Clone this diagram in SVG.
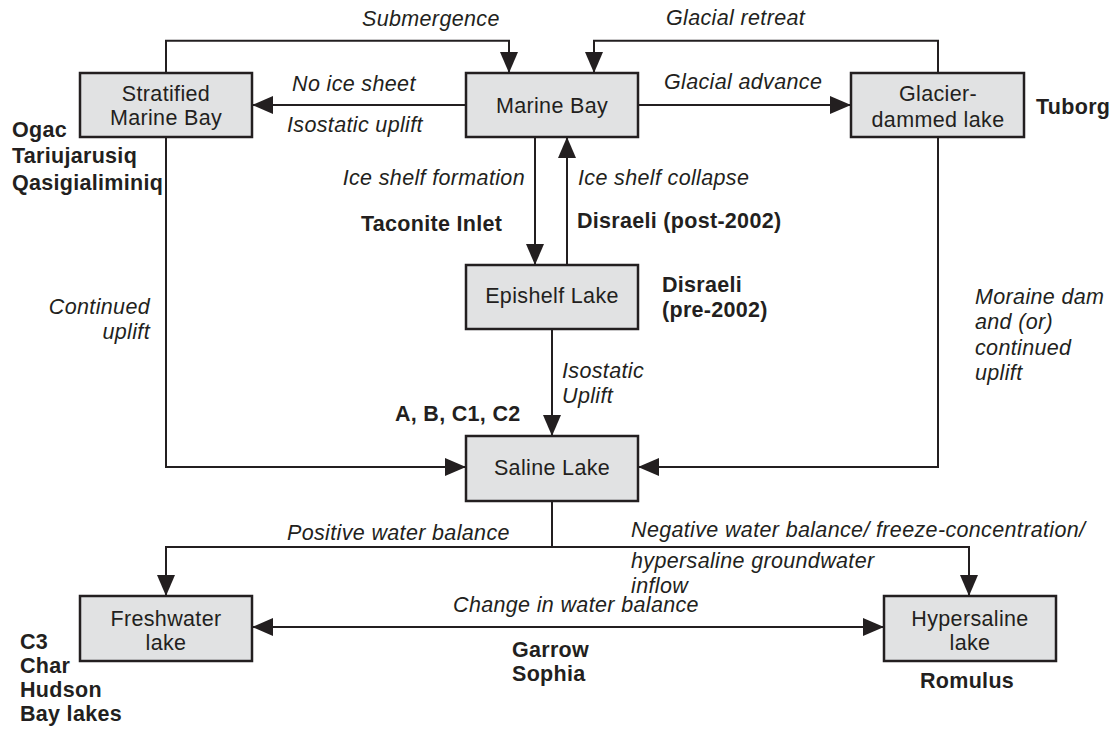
<svg xmlns="http://www.w3.org/2000/svg" width="1114" height="729" viewBox="0 0 1114 729">
<style>
text{font-family:"Liberation Sans",Arial,sans-serif;font-size:21.5px;letter-spacing:0.35px;fill:#231f20}
.i{font-style:italic}
.b{font-weight:bold;letter-spacing:0.3px}
.c{text-anchor:middle}
.e{text-anchor:end}
.box{fill:#e1e2e3;stroke:#231f20;stroke-width:2.5}
.ln{fill:none;stroke:#231f20;stroke-width:2}
</style>
<defs>
<marker id="ah" markerUnits="userSpaceOnUse" markerWidth="21" markerHeight="18" refX="20" refY="9" orient="auto-start-reverse"><path d="M0,0 L21,9 L0,18 z" fill="#231f20"/></marker>
</defs>
<rect width="1114" height="729" fill="#fff"/>
<g id="connectors">
<path class="ln" d="M166,73 V40.7 H509 V72" marker-end="url(#ah)"/>
<path class="ln" d="M938,73 V40.7 H594 V72" marker-end="url(#ah)"/>
<path class="ln" d="M466,105 H253" marker-end="url(#ah)"/>
<path class="ln" d="M638,105 H850" marker-end="url(#ah)"/>
<path class="ln" d="M535,137 V264" marker-end="url(#ah)"/>
<path class="ln" d="M567,265 V138" marker-end="url(#ah)"/>
<path class="ln" d="M552,329 V435" marker-end="url(#ah)"/>
<path class="ln" d="M166,137 V467 H465" marker-end="url(#ah)"/>
<path class="ln" d="M938,137 V467 H639" marker-end="url(#ah)"/>
<path class="ln" d="M552,501 V547"/>
<path class="ln" d="M552,547 H166 V595" marker-end="url(#ah)"/>
<path class="ln" d="M552,547 H969 V595" marker-end="url(#ah)"/>
<path class="ln" d="M253,627 H883" marker-start="url(#ah)" marker-end="url(#ah)"/>
<text class="i" x="362" y="26">Submergence</text>
<text class="i" x="666" y="25">Glacial retreat</text>
<text class="i" x="292" y="91">No ice sheet</text>
<text class="i" x="287" y="132">Isostatic uplift</text>
<text class="i" x="664" y="89">Glacial advance</text>
<text class="i e" x="525" y="185">Ice shelf formation</text>
<text class="i" x="578" y="185">Ice shelf collapse</text>
<text class="i" x="562" y="378">Isostatic</text>
<text class="i" x="562" y="403">Uplift</text>
<text class="i e" x="150" y="314">Continued</text>
<text class="i e" x="150" y="339">uplift</text>
<text class="i" x="975" y="304">Moraine dam</text>
<text class="i" x="975" y="329">and (or)</text>
<text class="i" x="975" y="355">continued</text>
<text class="i" x="975" y="380">uplift</text>
<text class="i" x="287" y="540">Positive water balance</text>
<text class="i" x="631" y="537">Negative water balance/ freeze-concentration/</text>
<text class="i" x="631" y="568">hypersaline groundwater</text>
<text class="i" x="631" y="593">inflow</text>
<text class="i" x="453" y="612">Change in water balance</text>
</g>
<g id="stratified">
<rect class="box" x="80" y="73" width="172" height="64"/>
<text class="c" x="166" y="101">Stratified</text>
<text class="c" x="166" y="125">Marine Bay</text>
<text class="b" x="12" y="137">Ogac</text>
<text class="b" x="12" y="163">Tariujarusiq</text>
<text class="b" x="12" y="190">Qasigialiminiq</text>
</g>
<g id="marine">
<rect class="box" x="466" y="73" width="172" height="64"/>
<text class="c" x="552" y="113">Marine Bay</text>
</g>
<g id="glacier">
<rect class="box" x="851" y="73" width="173" height="64"/>
<text class="c" x="938" y="101">Glacier-</text>
<text class="c" x="938" y="127">dammed lake</text>
<text class="b" x="1036" y="114">Tuborg</text>
</g>
<g id="epishelf">
<rect class="box" x="466" y="265" width="172" height="64"/>
<text class="c" x="552" y="303">Epishelf Lake</text>
<text class="b" x="361" y="231">Taconite Inlet</text>
<text class="b" x="577" y="228">Disraeli (post-2002)</text>
<text class="b" x="662" y="292">Disraeli</text>
<text class="b" x="662" y="317">(pre-2002)</text>
</g>
<g id="saline">
<rect class="box" x="466" y="436" width="172" height="65"/>
<text class="c" x="552" y="475">Saline Lake</text>
<text class="b" x="395" y="421">A, B, C1, C2</text>
</g>
<g id="freshwater">
<rect class="box" x="80" y="596" width="172" height="65"/>
<text class="c" x="166" y="626">Freshwater</text>
<text class="c" x="166" y="650">lake</text>
<text class="b" x="20" y="649">C3</text>
<text class="b" x="20" y="673">Char</text>
<text class="b" x="20" y="697">Hudson</text>
<text class="b" x="20" y="721">Bay lakes</text>
<text class="b" x="512" y="657">Garrow</text>
<text class="b" x="512" y="681">Sophia</text>
</g>
<g id="hypersaline">
<rect class="box" x="884" y="596" width="172" height="65"/>
<text class="c" x="970" y="626">Hypersaline</text>
<text class="c" x="970" y="650">lake</text>
<text class="b" x="920" y="688">Romulus</text>
</g>
</svg>
